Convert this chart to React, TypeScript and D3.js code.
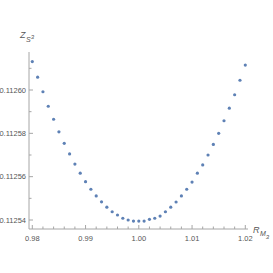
import React from 'react';
import * as d3 from 'd3';

// R_M3 sample points (step 0.001) and Z_S3 values
const rValues = d3.range(41).map(i => +(0.98 + i * 0.001).toFixed(3));
const zValues = [
  0.1126131, 0.1126059, 0.1125992, 0.1125925, 0.1125865, 0.1125807, 0.1125754,
  0.1125705, 0.1125658, 0.1125616, 0.1125577, 0.1125542, 0.1125511, 0.1125484,
  0.1125459, 0.1125438, 0.1125423, 0.1125408, 0.1125400, 0.1125395, 0.1125395,
  0.1125395, 0.1125403, 0.1125408, 0.1125418, 0.1125438, 0.1125459, 0.1125483,
  0.1125511, 0.1125542, 0.1125575, 0.1125616, 0.1125654, 0.1125700, 0.1125749,
  0.1125800, 0.1125858, 0.1125916, 0.1125978, 0.1126045, 0.1126115,
];
const xMajor = [0.98, 0.99, 1.0, 1.01, 1.02];
const xLabels = ['0.98', '0.99', '1.00', '1.01', '1.02'];
const yMajor = [0.11254, 0.11256, 0.11258, 0.1126];
const yLabels = ['0.11254', '0.11256', '0.11258', '0.11260'];

export default function App() {
  const width = 273;
  const height = 273;
  const x = d3.scaleLinear().domain([0.98, 1.02]).range([32.3, 245.3]);
  const y = d3.scaleLinear().domain([0.11254, 0.1126]).range([220, 90]);
  const axisX0 = 29;
  const axisX1 = 248;
  const axisY = 229;
  const axisYTop = 52;

  const xMinor = d3.range(0, 21).map(i => 0.98 + i * 0.002).filter(v => !xMajor.some(m => Math.abs(m - v) < 1e-9));
  const yMinor = [0.11255, 0.11257, 0.11259, 0.11261];

  const axisColor = '#a6a6a6';
  const textColor = '#555';
  const font = 'Liberation Sans, Arial, sans-serif';

  return (
    <div style={{ position: 'fixed', left: 0, top: 0, width, height, background: '#fff' }}>
      <svg width={width} height={height} style={{ display: 'block' }} fontFamily={font}>
        <rect width={width} height={height} fill="#fff" />
        {/* axes */}
        <line x1={axisX0} x2={axisX1} y1={axisY} y2={axisY} stroke={axisColor} strokeWidth={1} />
        <line x1={axisX0} x2={axisX0} y1={axisY} y2={axisYTop} stroke={axisColor} strokeWidth={1} />
        {xMajor.map((v, i) => (
          <g key={'xm' + i}>
            <line x1={x(v)} x2={x(v)} y1={axisY} y2={axisY - 4} stroke={axisColor} />
            <text x={x(v)} y={axisY + 12} textAnchor="middle" fontSize={7.5} fill={textColor}>{xLabels[i]}</text>
          </g>
        ))}
        {xMinor.map((v, i) => (
          <line key={'xn' + i} x1={x(v)} x2={x(v)} y1={axisY} y2={axisY - 2.5} stroke={axisColor} />
        ))}
        {yMajor.map((v, i) => (
          <g key={'ym' + i}>
            <line x1={axisX0} x2={axisX0 + 4} y1={y(v)} y2={y(v)} stroke={axisColor} />
            <text x={axisX0 - 3} y={y(v) + 2.6} textAnchor="end" fontSize={7.5} fill={textColor}>{yLabels[i]}</text>
          </g>
        ))}
        {yMinor.map((v, i) => (
          <line key={'yn' + i} x1={axisX0} x2={axisX0 + 2.5} y1={y(v)} y2={y(v)} stroke={axisColor} />
        ))}
        {/* axis labels */}
        <text x={20} y={38} fontSize={9} fill={textColor} fontStyle="italic">
          Z
          <tspan dx={0.5} dy={4} fontSize={7}>S</tspan>
          <tspan dy={-3} fontSize={6}>3</tspan>
        </text>
        <text x={253} y={233} fontSize={9} fill={textColor} fontStyle="italic">
          R
          <tspan dx={0.5} dy={3} fontSize={7}>M</tspan>
          <tspan dy={3} fontSize={6}>3</tspan>
        </text>
        {/* points */}
        {rValues.map((r, i) => (
          <circle key={i} cx={x(r)} cy={y(zValues[i])} r={1.6} fill="#5E81B5" />
        ))}
      </svg>
    </div>
  );
}
